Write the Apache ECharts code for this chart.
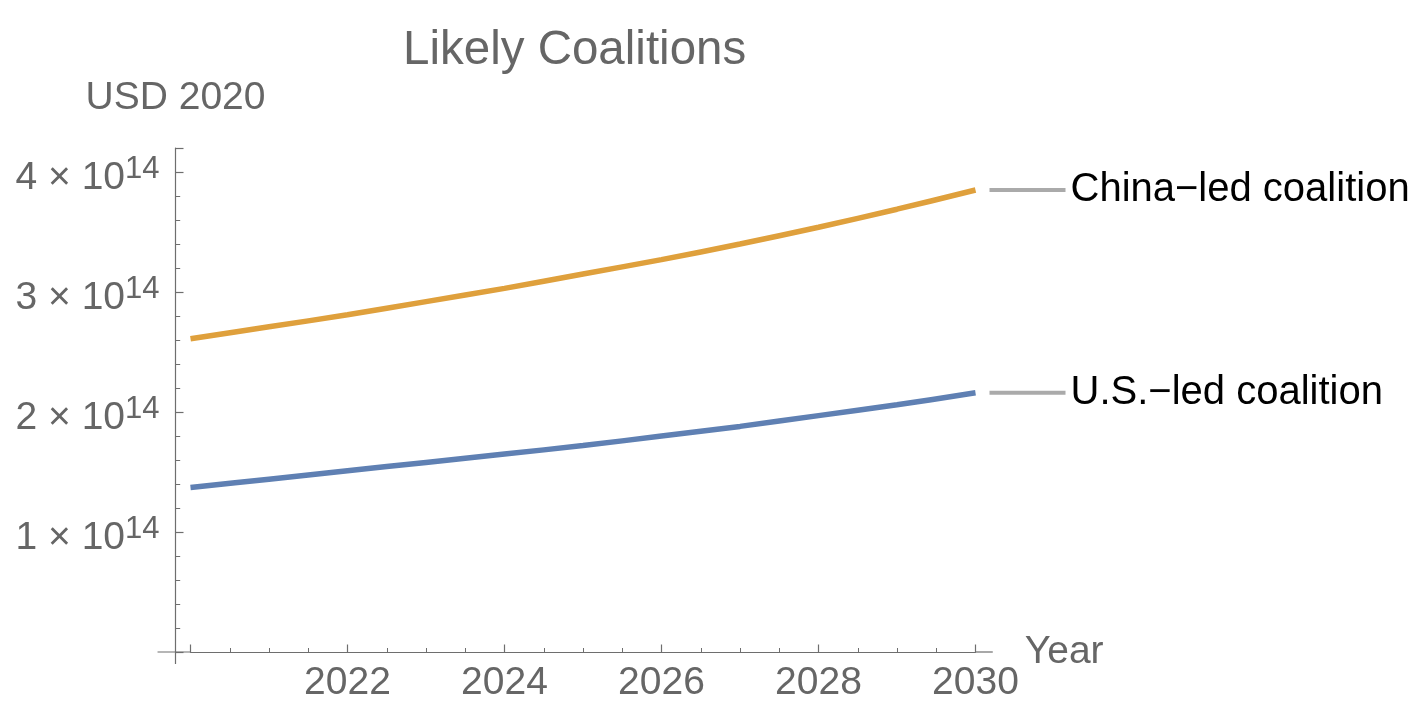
<!DOCTYPE html>
<html>
<head>
<meta charset="utf-8">
<script src="https://cdn.jsdelivr.net/npm/echarts@6/dist/echarts.min.js"></script>
<style>
  html, body { margin: 0; padding: 0; background: #ffffff; }
  #chart { width: 1426px; height: 724px; }
</style>
</head>
<body>
<div id="chart"></div>
<script>
// ---- data ----
const years = [2020, 2021, 2022, 2023, 2024, 2025, 2026, 2027, 2028, 2029, 2030];
const chinaLed = [2.61e14, 2.71e14, 2.81e14, 2.92e14, 3.03e14, 3.15e14, 3.27e14, 3.40e14, 3.54e14, 3.69e14, 3.85e14];
const usLed    = [1.37e14, 1.44e14, 1.51e14, 1.58e14, 1.65e14, 1.72e14, 1.80e14, 1.88e14, 1.97e14, 2.06e14, 2.16e14];
const seriesNames = ['U.S.\u2212led coalition', 'China\u2212led coalition'];
const xTickYears = [2022, 2024, 2026, 2028, 2030];
const yTickExponent = 14;
const titleText = 'Likely Coalitions';
const xName = 'Year';
const yName = 'USD 2020';

const FONT = '"Liberation Sans", Arial, Helvetica, sans-serif';
const GRAY = '#666666';
const AXIS = '#6e6e6e';
const Y_OFFSET = 15;

const chart = echarts.init(document.getElementById('chart'), null, { renderer: 'canvas' });

function pairs(vals) { return years.map((y, i) => [y, vals[i]]); }

function endLabel(name) {
  return {
    show: true,
    distance: 14,
    formatter: '{ln|}{t|' + name + '}',
    rich: {
      ln: { width: 76, height: 4, backgroundColor: '#aaaaaa' },
      t: { fontSize: 40, fontFamily: FONT, color: '#000000', padding: [0, 0, 0, 5] }
    }
  };
}

const option = {
  animation: false,
  backgroundColor: '#ffffff',
  title: {
    text: titleText,
    left: 398,
    top: 22,
    textStyle: { fontSize: 47.5, fontWeight: 'normal', color: GRAY, fontFamily: FONT }
  },
  grid: { left: 190.5, right: 450.5, top: 148, bottom: 72, containLabel: false },
  xAxis: {
    type: 'value',
    min: 2020,
    max: 2030,
    interval: 2,
    name: xName,
    nameLocation: 'end',
    nameGap: 49,
    nameTextStyle: { fontSize: 39, color: GRAY, fontFamily: FONT, padding: [4, 0, 0, 0] },
    axisLine: { show: true, onZero: true, lineStyle: { color: AXIS, width: 1.2 } },
    axisTick: { show: true, inside: true, length: 7.5, lineStyle: { color: AXIS, width: 1.2 } },
    minorTick: { show: true, splitNumber: 4, length: 4, lineStyle: { color: AXIS, width: 1 } },
    splitLine: { show: false },
    axisLabel: {
      show: true,
      margin: 12,
      fontSize: 39,
      color: GRAY,
      fontFamily: FONT,
      formatter: v => (xTickYears.indexOf(v) >= 0 ? String(v) : '')
    }
  },
  yAxis: {
    type: 'value',
    min: 0,
    max: 4.2e14,
    interval: 1e14,
    offset: Y_OFFSET,
    name: yName,
    nameLocation: 'end',
    nameGap: 30,
    nameTextStyle: { fontSize: 39, color: GRAY, fontFamily: FONT, align: 'center' },
    axisLine: { show: true, onZero: false, lineStyle: { color: AXIS, width: 1.2 } },
    axisTick: { show: true, inside: true, length: 8, lineStyle: { color: AXIS, width: 1.2 } },
    minorTick: { show: true, splitNumber: 5, length: 4.7, lineStyle: { color: AXIS, width: 1 } },
    splitLine: { show: false },
    axisLabel: {
      show: true,
      margin: 16,
      showMinLabel: false,
      showMaxLabel: false,
      padding: [13, 0, 0, 0],
      formatter: function (v) {
        if (v <= 0 || v > 4e14) return '';
        const m = Math.round(v / Math.pow(10, yTickExponent));
        return '{b|' + m + ' \u00d7 10}{s|' + yTickExponent + '}';
      },
      rich: {
        b: { fontSize: 39, lineHeight: 50, color: GRAY, fontFamily: FONT },
        s: { fontSize: 31, lineHeight: 20, verticalAlign: 'top', color: GRAY, fontFamily: FONT }
      }
    }
  },
  series: [
    {
      name: seriesNames[1],
      type: 'line',
      data: pairs(chinaLed),
      smooth: 0.3,
      showSymbol: false,
      symbol: 'none',
      lineStyle: { color: '#dfa03c', width: 5.5 },
      itemStyle: { color: '#dfa03c' },
      endLabel: endLabel(seriesNames[1]),
      z: 3
    },
    {
      name: seriesNames[0],
      type: 'line',
      data: pairs(usLed),
      smooth: 0.3,
      showSymbol: false,
      symbol: 'none',
      lineStyle: { color: '#5f80b3', width: 5.5 },
      itemStyle: { color: '#5f80b3' },
      endLabel: endLabel(seriesNames[0]),
      z: 3
    }
  ]
};

chart.setOption(option);

// Axis-line stubs that extend past the plot frame (Mathematica style)
const p0 = chart.convertToPixel({ gridIndex: 0 }, [2020, 0]);
const pL = chart.convertToPixel({ gridIndex: 0 }, [2019.58, 0]);
const pR = chart.convertToPixel({ gridIndex: 0 }, [2030.22, 0]);
const pB = chart.convertToPixel({ gridIndex: 0 }, [2020, -0.1e14]);
const pE = chart.convertToPixel({ gridIndex: 0 }, [2030, 0]);
const yx = p0[0] - Y_OFFSET;
chart.setOption({
  graphic: [
    { type: 'line', shape: { x1: pL[0], y1: p0[1], x2: p0[0], y2: p0[1] }, style: { stroke: AXIS, lineWidth: 1.2 }, silent: true },
    { type: 'line', shape: { x1: pE[0], y1: p0[1], x2: pR[0], y2: p0[1] }, style: { stroke: AXIS, lineWidth: 1.2 }, silent: true },
    { type: 'line', shape: { x1: yx, y1: p0[1], x2: yx, y2: pB[1] }, style: { stroke: AXIS, lineWidth: 1.2 }, silent: true }
  ]
});
</script>
</body>
</html>
